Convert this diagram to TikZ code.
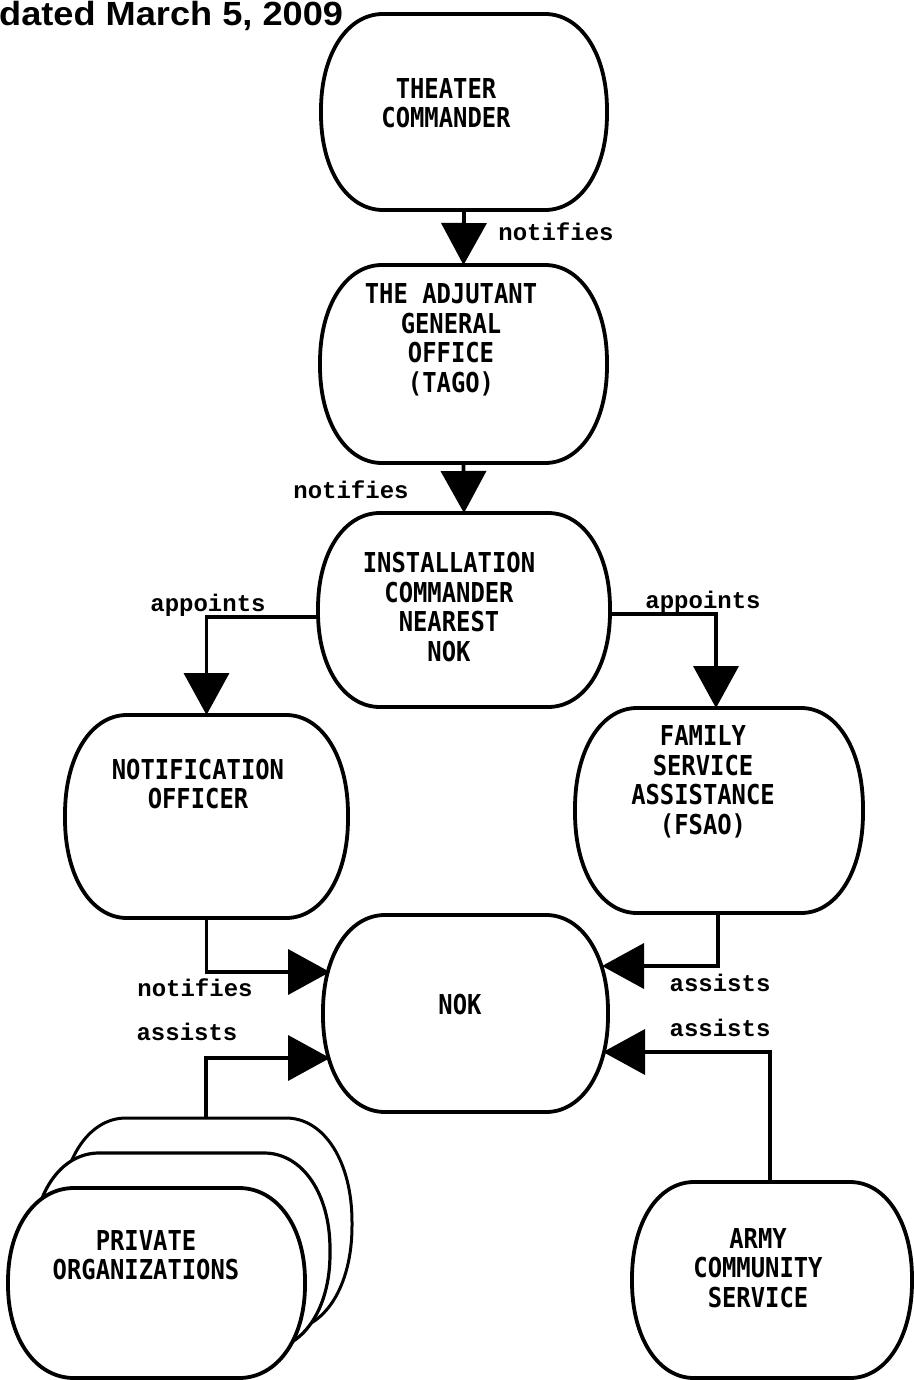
\documentclass[tikz,border=0pt]{standalone}
\usepackage{fontspec}
\usetikzlibrary{arrows.meta}
\newfontfamily\boxfont{DejaVu Sans Mono}[FakeStretch=0.87]
\newfontfamily\labfont{Liberation Mono}
\newfontfamily\hdrfont{Liberation Sans}[FakeStretch=1.08]
\tikzset{
  frame/.style={draw=none, inner sep=0pt, outer sep=0pt},
  outline/.style={draw=black, line width=3.8pt, fill=white, line join=round},
  boxtext/.style={font=\boxfont\bfseries\fontsize{27.4}{29.5}\selectfont, align=center, inner sep=0pt},
  lab/.style={font=\labfont\bfseries\fontsize{24}{26}\selectfont, inner sep=0pt},
  arr/.style={line width=3.8pt, -{Triangle[length=42pt,width=45pt]}},
}
% #2 node name, #3 horizontal corner radius, #4 vertical corner radius
\newcommand\squircle[4][]{%
  \filldraw[outline,#1]
    ([xshift={#3pt}]#2.north west) -- ([xshift={-#3pt}]#2.north east)
    .. controls ([xshift={-0.42*#3pt}]#2.north east) and ([yshift={-0.42*#4pt}]#2.north east)
    .. ([yshift={-#4pt}]#2.north east) -- ([yshift={#4pt}]#2.south east)
    .. controls ([yshift={0.42*#4pt}]#2.south east) and ([xshift={-0.42*#3pt}]#2.south east)
    .. ([xshift={-#3pt}]#2.south east) -- ([xshift={#3pt}]#2.south west)
    .. controls ([xshift={0.42*#3pt}]#2.south west) and ([yshift={0.42*#4pt}]#2.south west)
    .. ([yshift={#4pt}]#2.south west) -- ([yshift={-#4pt}]#2.north west)
    .. controls ([yshift={-0.42*#4pt}]#2.north west) and ([xshift={0.42*#3pt}]#2.north west)
    .. cycle;}
\begin{document}
\begin{tikzpicture}[x=1pt,y=-1pt]
\fill[white] (0,0) rectangle (913,1380);
\useasboundingbox (0,0) rectangle (913,1380);

\node[font=\hdrfont\bfseries\fontsize{33.5}{36}\selectfont, anchor=base west, inner sep=0pt] (hdr) at (-1,26) {dated March 5, 2009};

% box frames
\node[frame, minimum width=286pt, minimum height=196pt] (tc) at (464,112) {};
\node[frame, minimum width=287pt, minimum height=198pt] (tago) at (463.5,364) {};
\node[frame, minimum width=292pt, minimum height=194pt] (inst) at (464,610) {};
\node[frame, minimum width=283pt, minimum height=203pt] (noti) at (206.5,816.5) {};
\node[frame, minimum width=288pt, minimum height=205pt] (fsao) at (719,810.5) {};
\node[frame, minimum width=285pt, minimum height=197pt] (nok) at (465.5,1013.5) {};
\node[frame, minimum width=280pt, minimum height=196pt] (army) at (772,1280) {};
\node[frame, minimum width=292pt, minimum height=212pt] (privc) at (206,1224) {};
\node[frame, minimum width=297pt, minimum height=197pt] (privb) at (181.5,1251.5) {};
\node[frame, minimum width=297pt, minimum height=190pt] (priva) at (156.5,1283) {};

% box outlines
\squircle{tc}{62}{96}
\squircle{tago}{62}{97}
\squircle{inst}{62}{95}
\squircle{noti}{62}{99}
\squircle{fsao}{62}{100}
\squircle{nok}{62}{96}
\squircle{army}{62}{96}
\squircle[line width=3pt]{privc}{66}{104}
\squircle[line width=3.2pt]{privb}{66}{96}
\squircle{priva}{66}{93}

% texts
\node[boxtext] (tc-t) at (446,103) {THEATER\\COMMANDER};
\node[boxtext] (tago-t) at (451,340) {THE ADJUTANT\\GENERAL\\OFFICE\\(TAGO)};
\node[boxtext] (inst-t) at (449,607) {INSTALLATION\\COMMANDER\\NEAREST\\NOK};
\node[boxtext] (noti-t) at (198,784) {NOTIFICATION\\OFFICER};
\node[boxtext] (fsao-t) at (703,782) {FAMILY\\SERVICE\\ASSISTANCE\\(FSAO)};
\node[boxtext] (nok-t) at (460,1005) {NOK};
\node[boxtext] (army-t) at (758,1268) {ARMY\\COMMUNITY\\SERVICE};
\node[boxtext] (priv-t) at (146,1255) {PRIVATE\\ORGANIZATIONS};

% connectors
\draw[arr] (tc.south) -- (tago.north);
\draw[arr] (tago.south) -- (inst.north);
\draw[arr] ([yshift=-7pt]inst.west) -| (noti.north);
\draw[arr] ([yshift=-4pt]inst.east) -| ([xshift=-3pt]fsao.north);
\draw[arr] (noti.south) |- ([xshift=7pt,yshift=41.5pt]nok.west);
\draw[arr] ([xshift=-1pt]fsao.south) |- ([xshift=-6pt,yshift=47.5pt]nok.east);
\draw[arr] (privc.north) |- ([xshift=7pt,yshift=-44.5pt]nok.west);
\draw[arr] ([xshift=-2pt]army.north) |- ([xshift=-5pt,yshift=-38.5pt]nok.east);

% labels
\node[lab] (l1) at (556,232) {notifies};
\node[lab] (l2) at (351,490) {notifies};
\node[lab] (l3) at (208,605) {appoints};
\node[lab] (l4) at (703,602) {appoints};
\node[lab] (l5) at (195,988) {notifies};
\node[lab] (l6) at (720,983) {assists};
\node[lab] (l7) at (187,1032) {assists};
\node[lab] (l8) at (720,1028) {assists};
\end{tikzpicture}
\end{document}
